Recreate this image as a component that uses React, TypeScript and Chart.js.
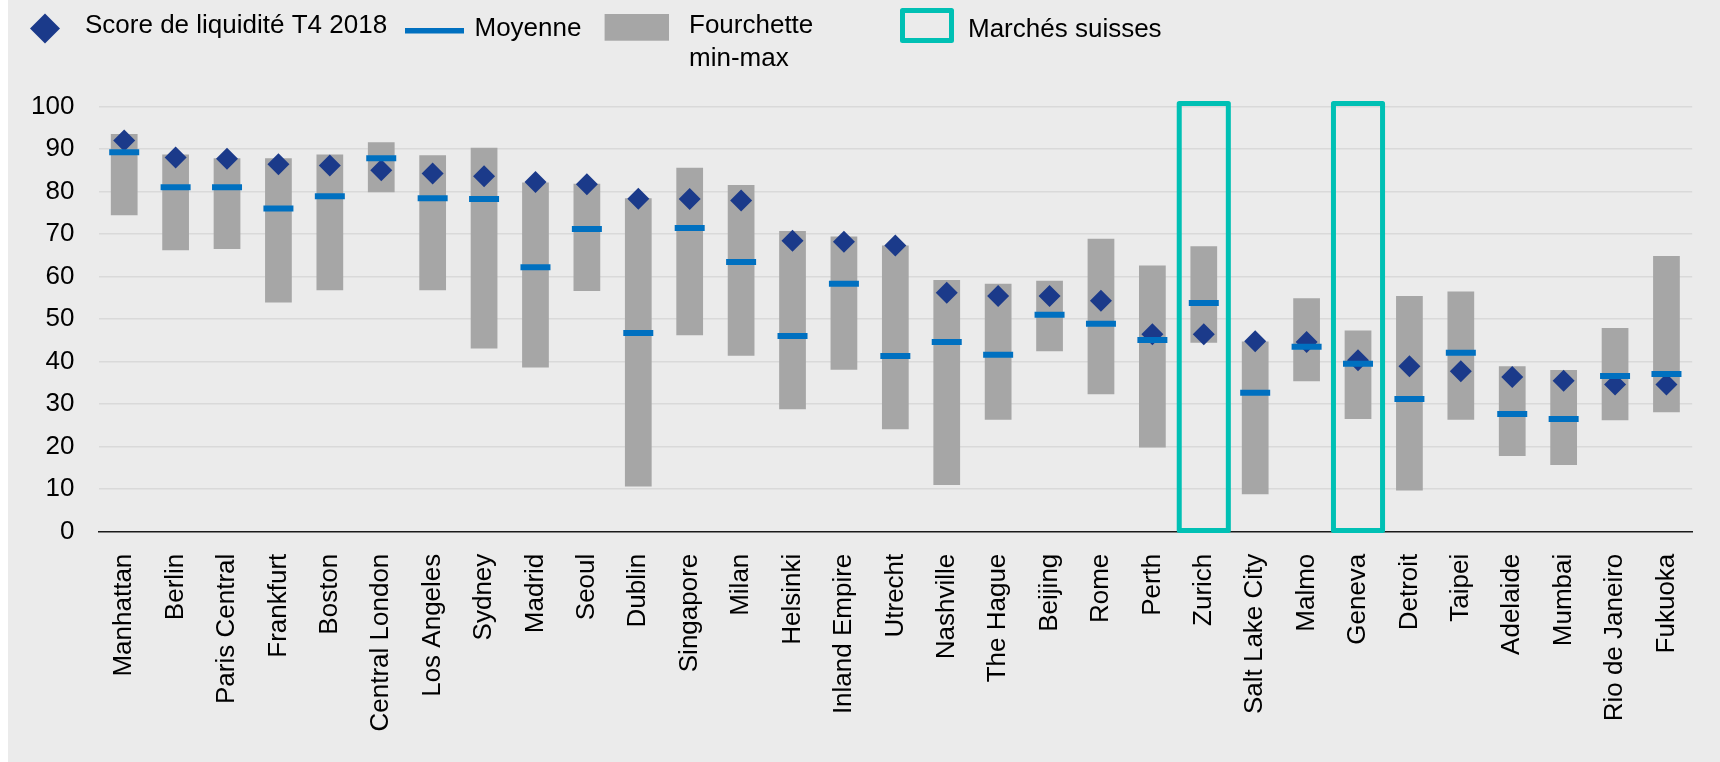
import React, { useEffect, useRef } from "react";
import { Chart, registerables } from "chart.js";

Chart.register(...registerables);

const categories = [
  "Manhattan", "Berlin", "Paris Central", "Frankfurt", "Boston", "Central London",
  "Los Angeles", "Sydney", "Madrid", "Seoul", "Dublin", "Singapore", "Milan",
  "Helsinki", "Inland Empire", "Utrecht", "Nashville", "The Hague", "Beijing",
  "Rome", "Perth", "Zurich", "Salt Lake City", "Malmo", "Geneva", "Detroit",
  "Taipei", "Adelaide", "Mumbai", "Rio de Janeiro", "Fukuoka",
];

const scores = [
  92.0, 88.0, 87.7, 86.4, 86.1, 85.0, 84.2, 83.6, 82.2, 81.7, 78.3, 78.2, 77.9,
  68.4, 68.2, 67.3, 56.2, 55.4, 55.4, 54.3, 46.4, 46.4, 44.8, 44.6, 40.3, 38.9,
  37.7, 36.4, 35.5, 34.6, 34.6,
];

const means = [
  89.2, 81.0, 81.0, 76.0, 78.9, 87.8, 78.4, 78.2, 62.2, 71.2, 46.7, 71.4, 63.4,
  46.0, 58.3, 41.3, 44.6, 41.6, 51.0, 48.9, 45.1, 53.8, 32.7, 43.5, 39.5, 31.2,
  42.1, 27.7, 26.5, 36.6, 37.1,
];

const mins = [
  74.4, 66.2, 66.5, 53.9, 56.8, 79.8, 56.8, 43.1, 38.6, 56.6, 10.6, 46.2, 41.4,
  28.8, 38.1, 24.1, 11.0, 26.3, 42.4, 32.3, 19.8, 44.4, 8.8, 35.4, 26.5, 9.7,
  26.3, 17.8, 15.7, 26.2, 28.1,
];

const maxs = [
  93.5, 88.7, 87.8, 87.8, 88.7, 91.6, 88.5, 90.3, 82.1, 81.8, 78.4, 85.6, 81.5,
  70.7, 69.4, 67.3, 59.2, 58.3, 59.0, 68.9, 62.6, 67.1, 44.7, 54.9, 47.3, 55.4,
  56.5, 38.9, 38.0, 47.9, 64.8,
];

const swissMarkets = ["Zurich", "Geneva"];
const swissBoxRange = [0.3, 100.7];

const yTickMin = 0;
const yTickMax = 100;
const yTickStep = 10;

const legendLabels = {
  score: "Score de liquidité T4 2018",
  mean: "Moyenne",
  range1: "Fourchette",
  range2: "min-max",
  swiss: "Marchés suisses",
};

const FONT = '"Liberation Sans", Arial, Helvetica, sans-serif';
const NAVY = "#1b3a8a";
const BLUE = "#0070c0";
const GRAY = "#a6a6a6";
const TEAL = "#00c0b4";
const BG = "#ebebeb";

const swissBoxPlugin = {
  id: "swissBox",
  afterDatasetsDraw(chart: any) {
    const { ctx, scales } = chart;
    const x = scales.x;
    const y = scales.y;
    const step = x.getPixelForValue(1) - x.getPixelForValue(0);
    const w = step * 0.955;
    const top = y.getPixelForValue(swissBoxRange[1]);
    const bottom = y.getPixelForValue(swissBoxRange[0]);
    ctx.save();
    ctx.strokeStyle = TEAL;
    ctx.lineWidth = 5;
    ctx.lineJoin = "round";
    swissMarkets.forEach((name) => {
      const i = categories.indexOf(name);
      if (i < 0) return;
      const cx = x.getPixelForValue(i);
      ctx.strokeRect(cx - w / 2, top, w, bottom - top);
    });
    ctx.restore();
  },
};

const legendPlugin = {
  id: "customLegend",
  afterDraw(chart: any) {
    const ctx = chart.ctx;
    ctx.save();
    // diamond
    ctx.fillStyle = NAVY;
    ctx.beginPath();
    ctx.moveTo(37, 13.5);
    ctx.lineTo(52, 28.5);
    ctx.lineTo(37, 43.5);
    ctx.lineTo(22, 28.5);
    ctx.closePath();
    ctx.fill();
    ctx.font = `26px ${FONT}`;
    ctx.fillStyle = "#000";
    ctx.textBaseline = "alphabetic";
    ctx.textAlign = "left";
    ctx.fillText(legendLabels.score, 77, 33);
    // mean line
    ctx.fillStyle = BLUE;
    ctx.fillRect(397, 28, 59, 5.5);
    ctx.fillStyle = "#000";
    ctx.fillText(legendLabels.mean, 466.5, 36);
    // range square
    ctx.fillStyle = GRAY;
    ctx.fillRect(596.6, 14, 64.4, 26.7);
    ctx.fillStyle = "#000";
    ctx.fillText(legendLabels.range1, 681, 33.3);
    ctx.fillText(legendLabels.range2, 681, 65.7);
    // swiss box
    ctx.strokeStyle = TEAL;
    ctx.lineWidth = 5;
    ctx.lineJoin = "round";
    ctx.strokeRect(894.5, 10.5, 49, 30);
    ctx.fillStyle = "#000";
    ctx.fillText(legendLabels.swiss, 960, 37.3);
    ctx.restore();
  },
};

export default function App() {
  const ref = useRef<HTMLCanvasElement | null>(null);

  useEffect(() => {
    if (!ref.current) return;
    const chart = new Chart(ref.current, {
      type: "bar",
      data: {
        labels: categories,
        datasets: [
          {
            type: "bar",
            label: legendLabels.range1 + " " + legendLabels.range2,
            data: mins.map((m, i) => [m, maxs[i]]) as any,
            backgroundColor: GRAY,
            borderWidth: 0,
            barPercentage: 0.52,
            categoryPercentage: 1,
            order: 3,
          },
          {
            type: "line",
            label: legendLabels.score,
            data: scores,
            showLine: false,
            pointStyle: "rectRot",
            pointRadius: 11,
            pointBackgroundColor: NAVY,
            pointBorderColor: NAVY,
            pointBorderWidth: 0,
            order: 2,
          } as any,
          {
            type: "line",
            label: legendLabels.mean,
            data: means,
            showLine: false,
            pointStyle: "line",
            pointRadius: 15,
            pointBorderColor: BLUE,
            pointBackgroundColor: BLUE,
            pointBorderWidth: 6,
            order: 1,
          } as any,
        ],
      },
      options: {
        responsive: false,
        animation: false,
        layout: { padding: { top: 106.4, right: 15, left: 0, bottom: 0 } },
        plugins: {
          legend: { display: false },
          tooltip: { enabled: false },
        },
        scales: {
          x: {
            grid: { display: false, drawTicks: false },
            border: { display: true, color: "#1a1a1a", width: 1.5 },
            ticks: {
              autoSkip: false,
              maxRotation: 90,
              minRotation: 90,
              padding: 22,
              color: "#000",
              font: { family: FONT, size: 26 },
            },
            afterFit: (s: any) => {
              s.height = 230.3;
            },
          },
          y: {
            min: yTickMin,
            max: yTickMax,
            ticks: {
              stepSize: yTickStep,
              padding: 24,
              color: "#000",
              font: { family: FONT, size: 26 },
            },
            grid: {
              drawTicks: false,
              lineWidth: 1.5,
              color: (c: any) => (c.tick && c.tick.value === 0 ? "rgba(0,0,0,0)" : "#d9d9d9"),
            },
            border: { display: false },
            afterFit: (s: any) => {
              s.width = 90.5;
            },
          },
        },
      },
      plugins: [swissBoxPlugin, legendPlugin],
    });
    return () => chart.destroy();
  }, []);

  return (
    <div
      style={{
        position: "absolute",
        left: 8,
        top: 0,
        width: 1712,
        height: 762,
        background: BG,
      }}
    >
      <canvas ref={ref} width={1712} height={762} style={{ display: "block" }} />
    </div>
  );
}
